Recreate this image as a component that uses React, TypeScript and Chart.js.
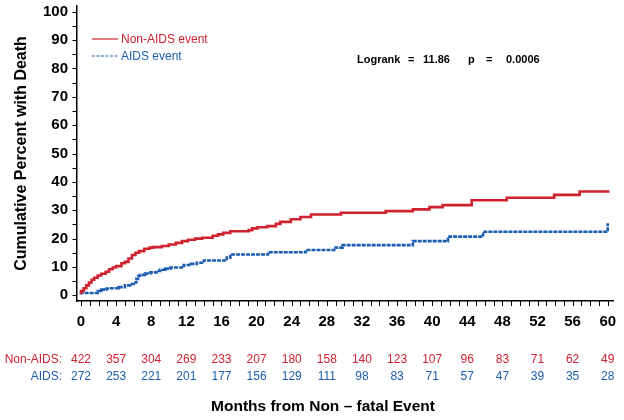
import { useEffect, useRef } from "react";
import { Chart, registerables } from "chart.js";

Chart.register(...registerables);

// Kaplan-Meier style step data (months, cumulative % with death)
const nonAidsMonths = [0, 0.3, 0.6, 0.9, 1.2, 1.5, 1.9, 2.3, 2.8, 3.2, 3.6, 4.0, 4.6, 5.0, 5.4, 5.8, 6.2, 6.6, 7.2, 7.8, 8.2, 9.2, 10.0, 10.8, 11.5, 12.2, 13.0, 13.8, 15.0, 15.6, 16.2, 17.0, 19.1, 19.5, 20.1, 21.2, 22.2, 22.7, 23.9, 25.0, 26.2, 29.6, 34.7, 37.8, 39.7, 41.2, 44.5, 48.5, 53.9, 56.8, 58.2, 60.2];
const nonAidsPct = [0.5, 1.5, 2.5, 3.5, 4.5, 5.5, 6.2, 7.0, 7.6, 8.3, 9.2, 9.8, 10.3, 11.3, 11.8, 13.0, 14.2, 15.0, 15.6, 16.4, 16.8, 17.0, 17.4, 17.9, 18.5, 19.1, 19.6, 20.0, 20.3, 21.0, 21.5, 22.0, 22.6, 23.0, 23.6, 24.0, 24.4, 25.2, 25.9, 26.8, 27.6, 28.5, 29.1, 29.7, 30.3, 31.1, 31.8, 33.5, 34.4, 35.4, 36.6, 36.6];

const aidsMonths = [0, 1.9, 2.3, 2.9, 3.2, 4.3, 5.0, 5.6, 6.0, 6.3, 6.5, 6.7, 7.3, 7.9, 8.6, 9.0, 9.6, 10.2, 11.7, 12.5, 13.2, 14.0, 16.6, 17.0, 21.3, 25.6, 29.0, 29.8, 37.8, 41.8, 45.8, 49.4, 60.0, 60.0];
const aidsPct = [0.3, 0.8, 1.5, 2.0, 2.4, 2.5, 2.9, 3.5, 4.0, 4.5, 5.8, 6.8, 7.2, 7.7, 8.1, 8.6, 9.0, 9.4, 9.8, 10.7, 11.1, 11.5, 12.3, 13.3, 14.4, 15.2, 16.0, 16.8, 17.7, 19.1, 20.7, 22.4, 22.4, 25.4];

// Numbers at risk
const riskMonths = [0, 4, 8, 12, 16, 20, 24, 28, 32, 36, 40, 44, 48, 52, 56, 60];
const nonAidsAtRisk = [422, 357, 304, 269, 233, 207, 180, 158, 140, 123, 107, 96, 83, 71, 62, 49];
const aidsAtRisk = [272, 253, 221, 201, 177, 156, 129, 111, 98, 83, 71, 57, 47, 39, 35, 28];

const seriesLabels = ["Non-AIDS event", "AIDS event"];
const riskRowLabels = ["Non-AIDS:", "AIDS:"];
const yTitle = "Cumulative Percent with Death";
const xTitle = "Months from Non \u2013 fatal Event";
const statTexts = ["Logrank", "=", "11.86", "p", "=", "0.0006"];

const RED = "#d0222e";
const BLUE = "#1c5db2";
const FONT = "'Liberation Sans', Arial, Helvetica, sans-serif";

export default function App() {
  const ref = useRef<HTMLCanvasElement | null>(null);

  useEffect(() => {
    document.body.style.margin = "0";
    const canvas = ref.current;
    if (!canvas) return;

    const overlay = {
      id: "overlay",
      afterDraw(chart: any) {
        const ctx = chart.ctx as CanvasRenderingContext2D;
        const xs = chart.scales.x;
        const ys = chart.scales.y;
        const area = chart.chartArea;
        ctx.save();
        // tick marks
        ctx.strokeStyle = "#000";
        ctx.lineWidth = 1;
        ctx.beginPath();
        xs.ticks.forEach((t: any) => {
          const px = Math.round(xs.getPixelForValue(t.value)) + 0.5;
          ctx.moveTo(px, area.bottom);
          ctx.lineTo(px, area.bottom + 5);
        });
        ys.ticks.forEach((t: any) => {
          const py = Math.round(ys.getPixelForValue(t.value)) + 0.5;
          ctx.moveTo(area.left, py);
          ctx.lineTo(area.left - 4.5, py);
        });
        ctx.stroke();
        // legend
        const legY = [39, 56];
        const colors = [RED, BLUE];
        for (let i = 0; i < 2; i++) {
          ctx.strokeStyle = colors[i];
          ctx.lineWidth = 1.2;
          ctx.setLineDash(i === 1 ? [3, 1.5] : []);
          ctx.beginPath();
          ctx.moveTo(92, legY[i]);
          ctx.lineTo(118, legY[i]);
          ctx.stroke();
          ctx.setLineDash([]);
          ctx.fillStyle = colors[i];
          ctx.font = `12px ${FONT}`;
          ctx.textAlign = "left";
          ctx.textBaseline = "middle";
          ctx.fillText(seriesLabels[i], 121, legY[i] + 0.5);
        }
        // logrank stat
        ctx.fillStyle = "#000";
        ctx.font = `bold 11px ${FONT}`;
        const sx = [357, 408, 423, 468, 486, 506];
        statTexts.forEach((t, i) => ctx.fillText(t, sx[i], 60));
        // risk table
        ctx.font = `12px ${FONT}`;
        const rows = [nonAidsAtRisk, aidsAtRisk];
        const rowY = [360, 377];
        for (let r = 0; r < 2; r++) {
          ctx.fillStyle = colors[r];
          ctx.textAlign = "right";
          ctx.fillText(riskRowLabels[r], 62, rowY[r]);
          ctx.textAlign = "center";
          riskMonths.forEach((m, i) => {
            ctx.fillText(String(rows[r][i]), xs.getPixelForValue(m), rowY[r]);
          });
        }
        // x title
        ctx.fillStyle = "#000";
        ctx.font = `bold 15.5px ${FONT}`;
        ctx.textAlign = "center";
        ctx.fillText(xTitle, 323, 407);
        ctx.restore();
      },
    };

    const chart = new Chart(canvas, {
      type: "line",
      data: {
        datasets: [
          {
            label: seriesLabels[0],
            data: nonAidsMonths.map((m, i) => ({ x: m, y: nonAidsPct[i] })),
            borderColor: RED,
            backgroundColor: RED,
            borderWidth: 2.6,
            pointRadius: 0,
            stepped: "after",
            fill: false,
          },
          {
            label: seriesLabels[1],
            data: aidsMonths.map((m, i) => ({ x: m, y: aidsPct[i] })),
            borderColor: BLUE,
            backgroundColor: BLUE,
            borderWidth: 2.6,
            borderDash: [4, 1],
            pointRadius: 0,
            stepped: "after",
            fill: false,
          },
        ],
      },
      options: {
        responsive: false,
        animation: false,
        layout: { padding: { top: 6, right: 11, left: 0, bottom: 0 } },
        plugins: { legend: { display: false }, tooltip: { enabled: false } },
        scales: {
          x: {
            type: "linear",
            min: -0.46,
            max: 60.6,
            afterFit: (s: any) => {
              s.height = 119;
              s.paddingLeft = 0;
              s.paddingRight = 0;
            },
            afterBuildTicks: (s: any) => {
              s.ticks = s.ticks.filter(
                (t: any) => Math.abs(t.value - Math.round(t.value)) < 1e-6 && t.value >= 0 && t.value <= 60
              );
            },
            ticks: {
              stepSize: 1,
              includeBounds: false,
              autoSkip: false,
              maxRotation: 0,
              padding: 12,
              color: "#000",
              font: { family: FONT, size: 15, weight: "bold" },
              callback: (v: any) => (Math.round(Number(v)) % 4 === 0 ? String(Math.round(Number(v))) : ""),
            },
            grid: { display: false, drawTicks: false, tickLength: 0 },
            border: { display: true, color: "#000", width: 1.5 },
          },
          y: {
            type: "linear",
            min: -2,
            max: 102,
            afterFit: (s: any) => {
              s.width = 77;
              s.paddingTop = 0;
              s.paddingBottom = 0;
            },
            afterBuildTicks: (s: any) => {
              s.ticks = s.ticks.filter(
                (t: any) => t.value >= 0 && t.value <= 100 && Math.abs(t.value % 5) < 1e-6
              );
            },
            ticks: {
              stepSize: 5,
              includeBounds: false,
              autoSkip: false,
              padding: 9,
              color: "#000",
              font: { family: FONT, size: 15, weight: "bold" },
              callback: (v: any) => (Math.round(Number(v)) % 10 === 0 ? String(Math.round(Number(v))) : ""),
            },
            title: {
              display: true,
              text: yTitle,
              color: "#000",
              font: { family: FONT, size: 16, weight: "bold" },
              padding: { top: 12, bottom: 0 },
            },
            grid: { display: false, drawTicks: false, tickLength: 0 },
            border: { display: true, color: "#000", width: 1.5 },
          },
        },
      },
      plugins: [overlay],
    });

    return () => chart.destroy();
  }, []);

  return (
    <div style={{ position: "absolute", left: 0, top: 0, width: 624, height: 420, background: "#fff" }}>
      <canvas ref={ref} width={624} height={420} style={{ width: 624, height: 420 }} />
    </div>
  );
}
